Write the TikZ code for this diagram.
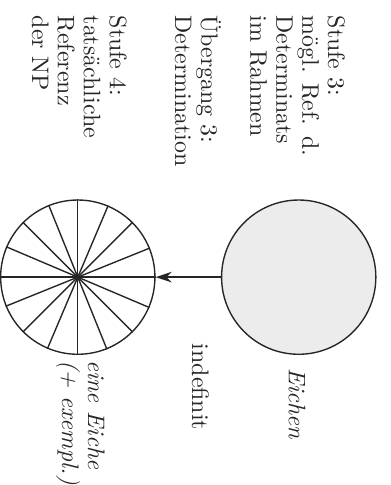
\documentclass[tikz,border=0pt]{standalone}
\usepackage{tikz}
\usetikzlibrary{arrows.meta}

\begin{document}
\begin{tikzpicture}[>={Stealth[length=7pt,width=4.6pt]}, line width=0.6pt, color=black!85,
  stage/.style={align=left, anchor=base west, inner sep=0pt, font=\fontsize{10.4}{11.3}\selectfont},
  menge/.style={circle, draw, inner sep=0pt, minimum size=2.36cm}]
  \begin{scope}[rotate=-90, transform shape]
  \useasboundingbox (0,0) rectangle (7.42,5.97);

  % Stufen
  \node[stage] (stufe3) at (0.23,3.83) {Stufe 3:\\mögl. Ref. d.\\Determinats\\im Rahmen};
  \node[stage] (uebergang3) at (0.23,2.68) {Übergang 3:\\Determination};
  \node[stage] (stufe4) at (0.23,0.49) {Stufe 4:\\tatsächliche\\Referenz\\der NP};

  % Mengen
  \node[menge, fill=gray!15] (eichen) at (4.24,4.57) {};
  \node[menge] (eiche) at (4.24,1.19) {};
  \foreach \a in {0,22.5,...,337.5}
    \draw (eiche.center) -- (eiche.\a);
  \draw[->] (eichen) -- (eiche);

  \node[stage] (indef) at (5.25,2.94) {indefinit};
  \node[stage, font=\fontsize{10.4}{11.3}\selectfont\itshape] (eichenlbl) at (5.62,4.42) {Eichen};
  \node[stage, font=\fontsize{10.4}{11.3}\selectfont\itshape] (eichelbl) at (5.50,0.95) {eine Eiche\\(+ exempl.)};
  \end{scope}
\end{tikzpicture}
\end{document}
